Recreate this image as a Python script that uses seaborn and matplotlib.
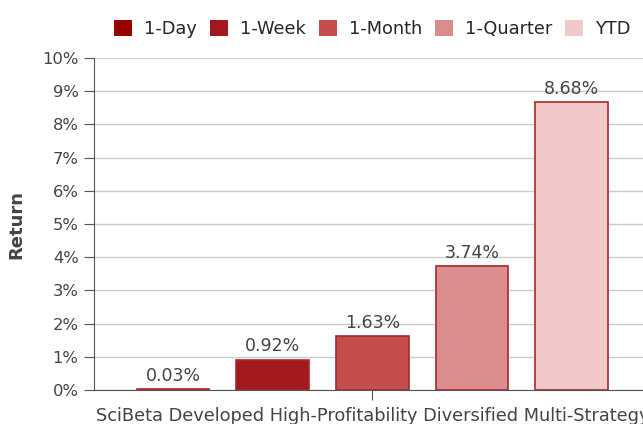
import pandas as pd
import seaborn as sns
import matplotlib.pyplot as plt
from matplotlib.ticker import PercentFormatter

# Data
strategy = "SciBeta Developed High-Profitability Diversified Multi-Strategy"
periods = ["1-Day", "1-Week", "1-Month", "1-Quarter", "YTD"]
returns = [0.03, 0.92, 1.63, 3.74, 8.68]
colors = ["#990000", "#a3181c", "#c44e4f", "#db8c8c", "#f0cacb"]

df = pd.DataFrame({"strategy": [strategy] * len(periods),
                   "period": periods,
                   "return": returns})

sns.set_style("white")
plt.rcParams['font.family'] = ['DejaVu Sans']

fig = plt.figure(figsize=(6.43, 4.24), dpi=100)
ax = fig.add_axes([0.146, 0.080, 0.866, 0.783])

sns.barplot(data=df, x="strategy", y="return", hue="period", palette=colors,
            saturation=1, width=0.8, gap=0.27, edgecolor="#a82a2a", linewidth=1.2, ax=ax)

for c in ax.containers:
    ax.bar_label(c, labels=[f"{v:.2f}%" for v in c.datavalues],
                 padding=3, fontsize=12.5, color="#444444")

ax.set_ylim(0, 10)
ax.set_yticks(range(0, 11))
ax.yaxis.set_major_formatter(PercentFormatter(decimals=0))
ax.set_xlim(-0.447, 0.447)
ax.grid(axis="y", color="#cccccc", linewidth=1)
ax.set_axisbelow(True)

ax.set_xlabel("")
ax.set_ylabel("Return", fontsize=13, fontweight="bold", color="#444444", labelpad=12)
ax.tick_params(axis="y", labelsize=11.8, colors="#555555", length=7, direction="out",
               left=True, pad=4)
ax.tick_params(axis="x", labelsize=12.8, colors="#555555", length=7, direction="out",
               bottom=True, pad=5)
for lab in ax.get_xticklabels() + ax.get_yticklabels():
    lab.set_color("#444444")

sns.despine(ax=ax, top=True, right=True)
ax.spines["left"].set_color("#555555")
ax.spines["bottom"].set_color("#555555")

ax.legend(loc="lower center", bbox_to_anchor=(0.5, 1.039), ncol=5, frameon=False,
          fontsize=12.8, handlelength=1.0, handleheight=1.0, columnspacing=0.75,
          handletextpad=0.67, borderaxespad=0)
for h in ax.get_legend().legend_handles:
    h.set_edgecolor("none")

fig.savefig("out.png", dpi=100)
